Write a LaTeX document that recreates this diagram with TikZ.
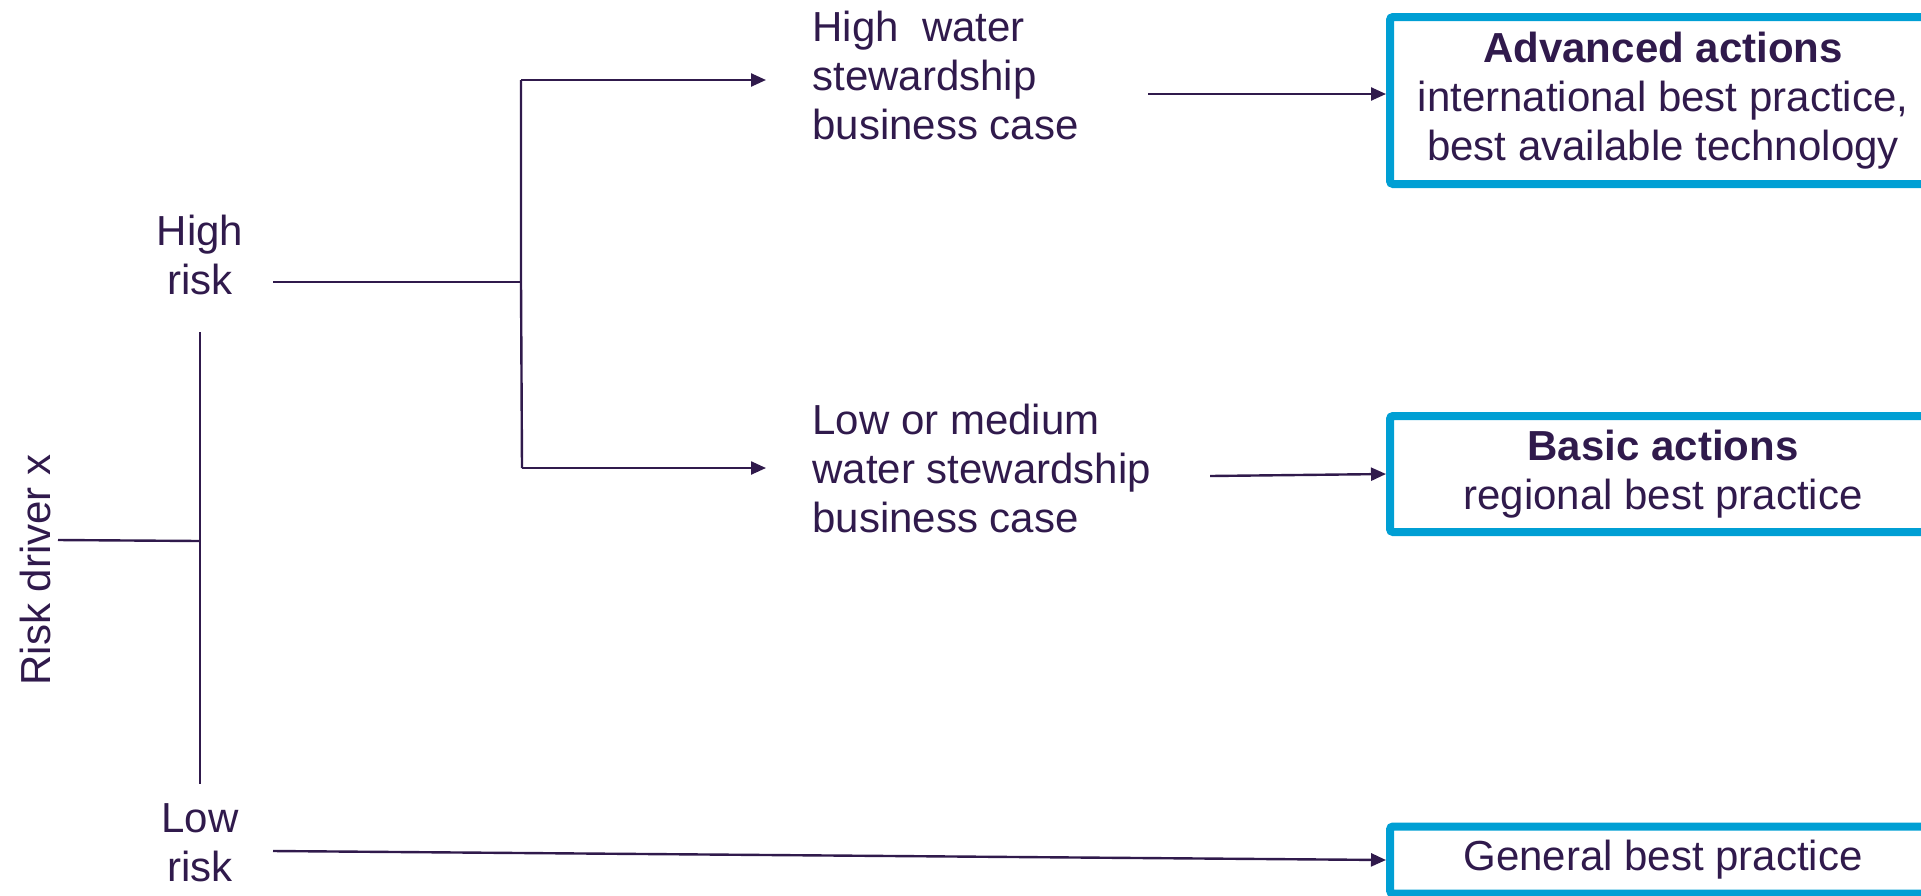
\documentclass[tikz,border=0pt]{standalone}
\usepackage{fontspec}
\setmainfont{Liberation Sans}
\usetikzlibrary{arrows.meta}
\definecolor{ink}{RGB}{48,26,76}
\definecolor{boxblue}{RGB}{0,159,212}
\begin{document}
\begin{tikzpicture}[x=0.5pt,y=-0.5pt,
  every node/.style={text=ink,font=\fontsize{21}{24.5}\selectfont,inner sep=0pt},
  lbl/.style={align=center},
  lbll/.style={align=left,anchor=west},
  outbox/.style={draw=boxblue,line width=4pt,rounded corners=1.5pt,align=center,minimum width=273pt},
  conn/.style={draw=ink,line width=1.2pt},
  arr/.style={conn,-{Triangle[length=7.5pt,width=6.5pt]}}]
\clip (0,0) rectangle (1921,895);
\useasboundingbox (0,0) rectangle (1921,895);

% left labels
\node[lbl,rotate=90] (rdx) at (35,570) {Risk driver x};
\node[lbl] (hr) at (200,255) {High\\risk};
\node[lbl] (lr) at (200,843) {Low\\risk};

% middle labels
\node[lbll] (hw) at (812,75) {High\ \ water\\stewardship\\business case};
\node[lbll] (lm) at (812,468) {Low or medium\\water stewardship\\business case};

% outcome boxes
\node[outbox,minimum height=83.5pt] (adv) at (1663,100.5) {\textbf{Advanced actions}\\international best practice,\\best available technology};
\node[outbox,minimum height=58pt] (bas) at (1663,474) {\textbf{Basic actions}\\regional best practice};
\node[outbox,minimum height=33.5pt] (gen) at (1663,860) {General best practice};

% coordinates
\coordinate (rdxe) at (58,540);
\coordinate (vt) at (200,332);
\coordinate (vm) at (200,541);
\coordinate (vb) at (200,784);
\coordinate (hrs) at (273,282);
\coordinate (jm) at (521,282);
\coordinate (jt) at (521,80);
\coordinate (jb) at (522,468);
\coordinate (hwt) at (766,80);
\coordinate (lmt) at (766,468);
\coordinate (hwe) at (1148,94);
\coordinate (lme) at (1210,476);
\coordinate (lrs) at (273,851);

% connectors
\draw[conn] (rdxe) -- (vm);
\draw[conn] (vt) -- (vb);
\draw[conn] (hrs) -- (jm);
\draw[conn] (jt) -- (jm) -- (jb);
\draw[arr] (jt) -- (hwt);
\draw[arr] (jb) -- (lmt);
\draw[arr] (hwe) -- (adv.west |- hwe);
\draw[arr] (lme) -- (bas.west);
\draw[arr] (lrs) -- (gen.west);
\end{tikzpicture}
\end{document}
